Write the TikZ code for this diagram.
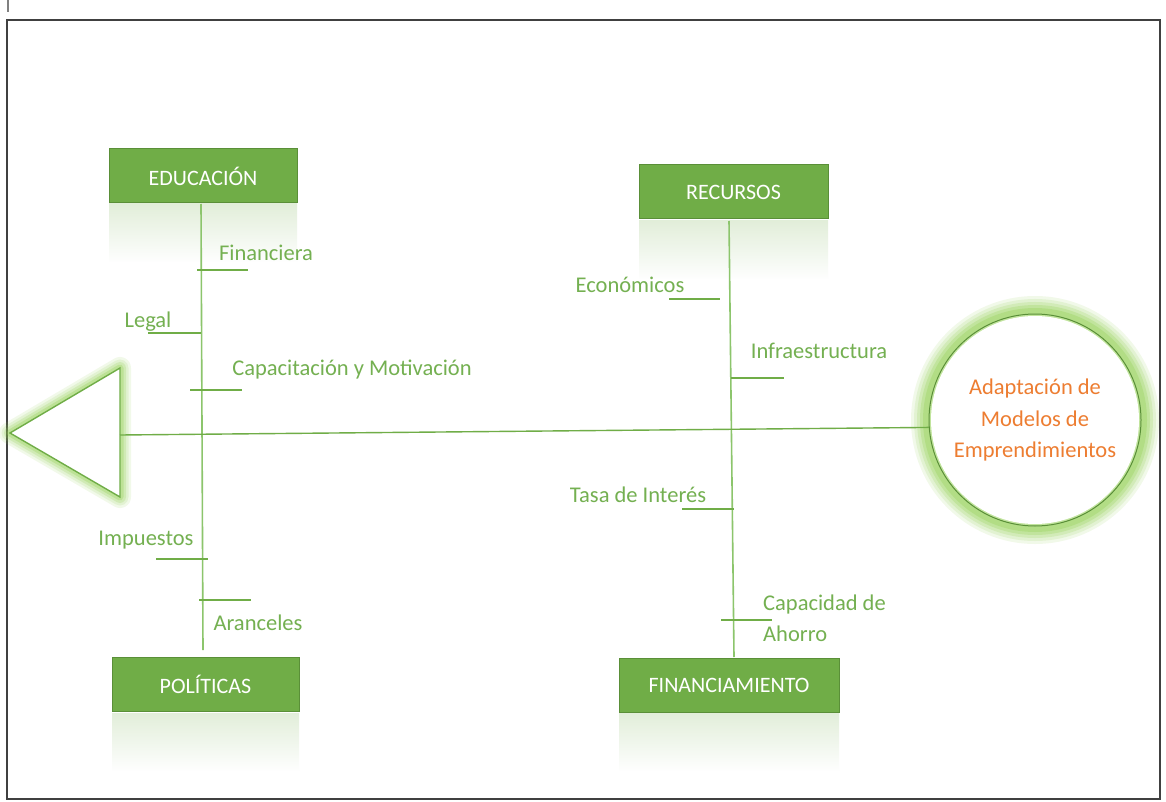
\documentclass[tikz,border=0pt]{standalone}
\usepackage{fontspec}
\setmainfont{Carlito}
\usetikzlibrary{calc}
\definecolor{ofgreen}{HTML}{70AD47}
\definecolor{boxborder}{HTML}{5A8F38}
\definecolor{lblgreen}{HTML}{74B051}
\definecolor{linegreen}{HTML}{8CC56C}
\definecolor{glowgreen}{HTML}{92D050}
\definecolor{orangetxt}{HTML}{ED7D31}
\definecolor{framegray}{HTML}{404040}
\tikzset{
  catbox/.style={draw=boxborder, line width=1pt, fill=ofgreen, text=white,
    font=\fontsize{22}{24}\selectfont, inner sep=0pt, minimum height=54pt},
  lbl/.style={text=lblgreen, font=\fontsize{22.5}{31}\selectfont, inner sep=0pt},
  spine/.style={draw=linegreen, line width=1.6pt},
  tickline/.style={draw=ofgreen, line width=1.4pt},
  mainline/.style={draw=ofgreen, line width=1.4pt},
  reflect/.style={top color=ofgreen!40, bottom color=white, draw=none, opacity=0.5},
}
\begin{document}
\begin{tikzpicture}[x=1pt,y=-1pt]
\useasboundingbox (0,0) rectangle (1166,802);
\fill[white] (0,0) rectangle (1166,802);
% frame
\draw[framegray, line width=1.6pt] (7,20) rectangle (1160,799);
\draw[gray, line width=1.2pt] (8,0) -- (8,12);

% reflections
\shade[reflect] (109,204) rectangle (297,262);
\shade[reflect] (639,221) rectangle (828,279);
\shade[reflect] (112,713) rectangle (299,771);
\shade[reflect] (619,713) rectangle (839,771);

% category boxes
\node[catbox, minimum width=188pt] (edu) at (203,176) {EDUCACIÓN};
\node[catbox, minimum width=189pt] (rec) at (733.5,192) {RECURSOS};
\node[catbox, minimum width=187pt] (pol) at (205.5,684.5) {POLÍTICAS};
\node[catbox, minimum width=220pt] (fin) at (729,685) {FINANCIAMIENTO};

% spines
\coordinate (eduS) at (201,204);
\coordinate (polN) at (203,650);
\coordinate (recS) at (729,221);
\coordinate (finN) at (734,657);
\draw[spine] (eduS) -- (polN);
\draw[spine] (recS) -- (finN);

% triangle head with glow
\coordinate (tA) at (10,433);
\coordinate (tB) at (120,368);
\coordinate (tC) at (120,497);
\coordinate (tri) at (120,435);
\foreach \w/\o in {22/0.12, 17/0.15, 12/0.22, 7/0.3}{
  \draw[glowgreen, line width=\w pt, opacity=\o, line join=round] (tA) -- (tB) -- (tC) -- cycle;
}
\fill[white] (tA) -- (tB) -- (tC) -- cycle;
\draw[ofgreen, line width=1.4pt, line join=miter] (tA) -- (tB) -- (tC) -- cycle;

% goal circle with glow
\foreach \w/\o in {30/0.12, 24/0.15, 18/0.2, 12/0.25, 6/0.3}{
  \draw[glowgreen, line width=\w pt, opacity=\o] (1035,420) circle[radius=109];
}
\fill[white] (1035,420) circle[radius=104];
\node[circle, draw=boxborder, line width=1pt, minimum size=212pt, inner sep=0pt,
  text=orangetxt, align=center, font=\fontsize{22.5}{31.5}\selectfont] (goal) at (1035,420)
  {Adaptación de\\Modelos de\\Emprendimientos};

% main line
\draw[mainline] (tri) -- (goal.184);

% ticks, left spine
\coordinate (f1) at (197,270); \coordinate (f2) at (248,270);
\draw[tickline] (f1) -- (f2);
\node[lbl] (lfin) at (266,253) {Financiera};
\coordinate (l1) at (148,333); \coordinate (l2) at (201,333);
\draw[tickline] (l1) -- (l2);
\node[lbl] (lleg) at (148,322) {Legal};
\coordinate (c1) at (190,390); \coordinate (c2) at (242,390);
\draw[tickline] (c1) -- (c2);
\node[lbl] (lcap) at (352,370) {Capacitación y Motivación};
\coordinate (i1) at (156,559); \coordinate (i2) at (208,559);
\draw[tickline] (i1) -- (i2);
\node[lbl] (limp) at (146,540) {Impuestos};
\coordinate (a1) at (199,600); \coordinate (a2) at (251,600);
\draw[tickline] (a1) -- (a2);
\node[lbl] (lara) at (258,623) {Aranceles};

% ticks, right spine
\coordinate (e1) at (669,299); \coordinate (e2) at (720,299);
\draw[tickline] (e1) -- (e2);
\node[lbl] (leco) at (630,285) {Económicos};
\coordinate (n1) at (731,378); \coordinate (n2) at (784,378);
\draw[tickline] (n1) -- (n2);
\node[lbl] (linf) at (819,351) {Infraestructura};
\coordinate (s1) at (682,509); \coordinate (s2) at (734,509);
\draw[tickline] (s1) -- (s2);
\node[lbl] (ltas) at (638,495) {Tasa de Interés};
\coordinate (h1) at (721,620); \coordinate (h2) at (772,620);
\draw[tickline] (h1) -- (h2);
\node[lbl, align=left, anchor=west] (laho) at (763,618.5) {Capacidad de\\Ahorro};
\end{tikzpicture}
\end{document}
